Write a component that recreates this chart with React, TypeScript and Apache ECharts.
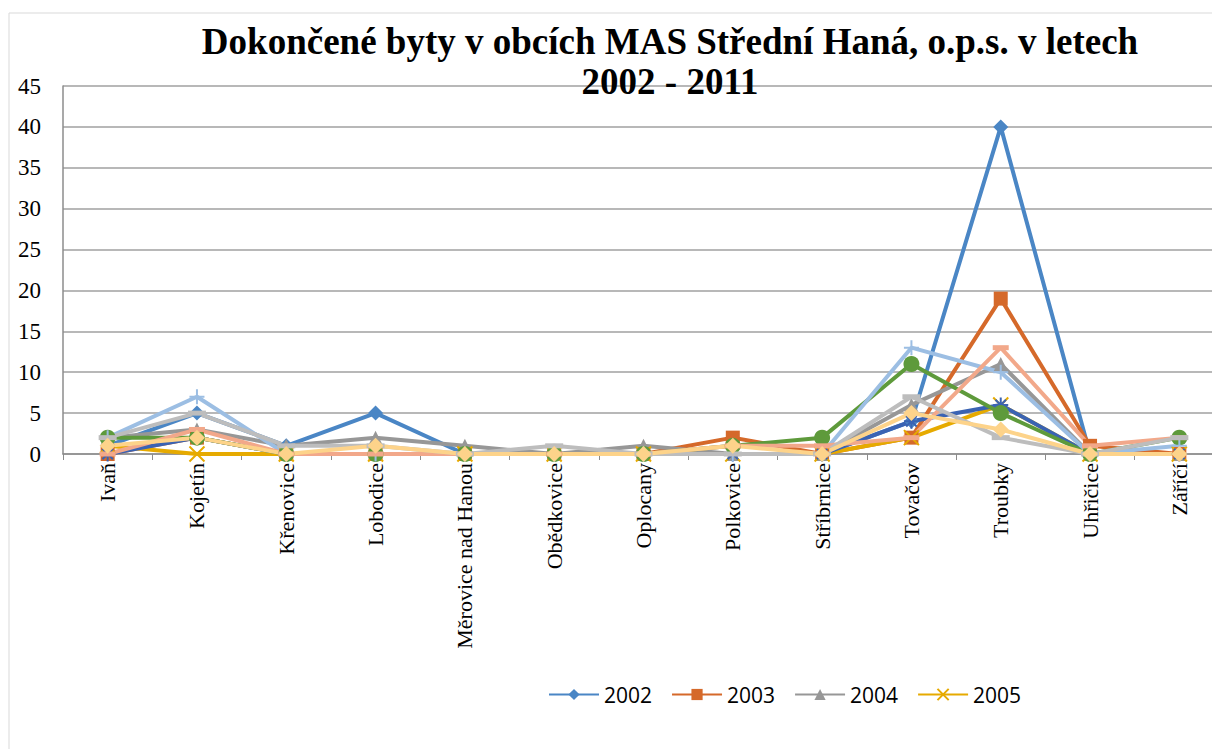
import React, { useEffect, useRef } from "react";
import * as echarts from "echarts";

const categories = [
  "Ivaň", "Kojetín", "Křenovice", "Lobodice", "Měrovice nad Hanou", "Obědkovice",
  "Oplocany", "Polkovice", "Stříbrnice", "Tovačov", "Troubky", "Uhřičice", "Záříčí",
];
const years = ["2002", "2003", "2004", "2005", "2006", "2007", "2008", "2009", "2010", "2011"];
const y2002 = [1, 5, 1, 5, 0, 0, 0, 0, 0, 4, 40, 0, 0];
const y2003 = [0, 2, 0, 0, 0, 0, 0, 2, 0, 2, 19, 1, 0];
const y2004 = [2, 3, 1, 2, 1, 0, 1, 0, 0, 6, 11, 0, 0];
const y2005 = [1, 0, 0, 0, 0, 0, 0, 0, 0, 2, 6, 0, 0];
const y2006 = [0, 2, 0, 0, 0, 0, 0, 0, 0, 4, 6, 0, 0];
const y2007 = [2, 2, 0, 0, 0, 0, 0, 1, 2, 11, 5, 0, 2];
const y2008 = [2, 7, 0, 0, 0, 0, 0, 0, 0, 13, 10, 0, 1];
const y2009 = [0, 3, 0, 0, 0, 0, 0, 1, 1, 2, 13, 1, 2];
const y2010 = [2, 5, 1, 1, 0, 1, 0, 0, 0, 7, 2, 0, 2];
const y2011 = [1, 2, 0, 1, 0, 0, 0, 1, 0, 5, 3, 0, 0];
const seriesValues = [y2002, y2003, y2004, y2005, y2006, y2007, y2008, y2009, y2010, y2011];
const legendYears = ["2002", "2003", "2004", "2005"];
const yTicks = { min: 0, max: 45, interval: 5 };

const colors = ["#4A86C5", "#D5692A", "#979797", "#E6AA00", "#3A63B3", "#5E9A3B", "#9CBEE3", "#F2A88A", "#BDBDBD", "#FDD38A"];
const symbols: any[] = [
  "diamond",
  "rect",
  "triangle",
  "path://M0,0L10,10M10,0L0,10",
  "path://M5,0L5,10M0,5L10,5M1.5,1.5L8.5,8.5M8.5,1.5L1.5,8.5",
  "circle",
  "path://M5,0L5,10M0,5L10,5",
  "path://M0,4L10,4L10,6L0,6Z",
  "path://M0,4L10,4L10,6L0,6Z",
  "diamond",
];
const symbolSizes: any[] = [15, 14, 14, 15, 15, 16, 15, [16, 5], [18, 5], 16];
const strokeSymbol = [false, false, false, true, true, false, true, false, false, false];

export default function App() {
  const ref = useRef<HTMLDivElement>(null);
  useEffect(() => {
    if (!ref.current) return;
    const chart = echarts.init(ref.current, null, { renderer: "svg" });
    const series = years.map((y, i) => ({
      name: y,
      type: "line",
      data: seriesValues[i],
      symbol: symbols[i],
      symbolSize: symbolSizes[i],
      lineStyle: { color: colors[i], width: 4 },
      itemStyle: strokeSymbol[i]
        ? { color: colors[i], borderColor: colors[i], borderWidth: 2 }
        : { color: colors[i] },
      emphasis: { disabled: true },
    }));
    const titleFont = "bold 37px 'Liberation Serif', 'Times New Roman', serif";
    chart.setOption({
      animation: false,
      backgroundColor: "#ffffff",
      graphic: [
        {
          type: "rect",
          shape: { x: 9, y: 13, width: 1400, height: 900 },
          style: { fill: "none", stroke: "#D9D9D9", lineWidth: 1 },
          silent: true,
          z: -10,
        },
        {
          type: "text",
          x: 670,
          y: 41,
          style: {
            text: "Dokončené byty v obcích MAS Střední Haná, o.p.s. v letech",
            font: titleFont,
            fill: "#000",
            textAlign: "center",
            textVerticalAlign: "middle",
          },
          z: 100,
        },
        {
          type: "text",
          x: 670,
          y: 81,
          style: {
            text: "2002 - 2011",
            font: titleFont,
            fill: "#000",
            textAlign: "center",
            textVerticalAlign: "middle",
          },
          z: 100,
        },
      ],
      legend: {
        data: legendYears,
        left: 543,
        top: 679,
        itemWidth: 50,
        itemHeight: 14,
        itemGap: 19,
        textStyle: { fontFamily: "'Open Sans', 'Liberation Sans', sans-serif", fontSize: 21, color: "#000" },
      },
      grid: { left: 63, right: 16, top: 86, bottom: 295 },
      xAxis: {
        type: "category",
        data: categories,
        boundaryGap: true,
        axisLine: { lineStyle: { color: "#8C8C8C", width: 1.5 } },
        axisTick: { show: true, length: 6, lineStyle: { color: "#8C8C8C" } },
        axisLabel: {
          rotate: 90,
          interval: 0,
          margin: 9,
          color: "#000",
          fontFamily: "'Liberation Serif', 'Times New Roman', serif",
          fontSize: 22,
        },
      },
      yAxis: {
        type: "value",
        min: yTicks.min,
        max: yTicks.max,
        interval: yTicks.interval,
        axisLine: { show: true, lineStyle: { color: "#8C8C8C", width: 1.5 } },
        axisTick: { show: false },
        splitLine: { lineStyle: { color: "#A0A0A0", width: 1.5 } },
        axisLabel: {
          margin: 22,
          color: "#000",
          fontFamily: "'Liberation Serif', 'Times New Roman', serif",
          fontSize: 23,
        },
      },
      series,
    });
    return () => chart.dispose();
  }, []);
  return (
    <div style={{ position: "fixed", left: 0, top: 0, width: 1212, height: 749, overflow: "hidden", background: "#fff" }}>
      <div ref={ref} style={{ position: "absolute", left: 0, top: 0, width: 1240, height: 749 }} />
    </div>
  );
}
